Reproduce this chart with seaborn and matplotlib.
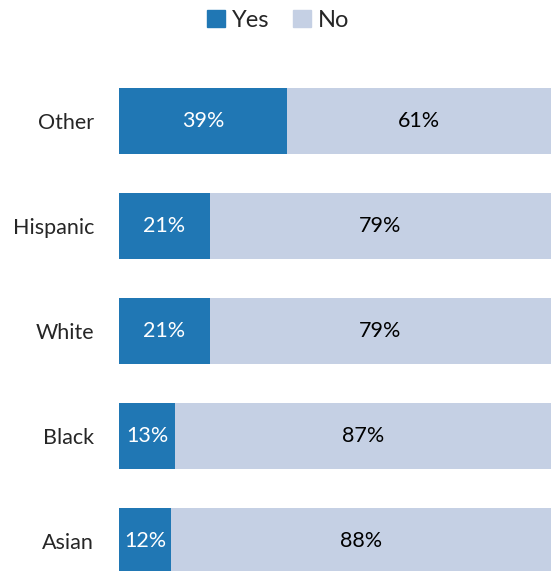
import pandas as pd
import numpy as np
import matplotlib.pyplot as plt
import seaborn as sns
from matplotlib.patches import Patch

groups = ["Other", "Hispanic", "White", "Black", "Asian"]
yes_pct = [39, 21, 21, 13, 12]
no_pct = [61, 79, 79, 87, 88]

YES_COLOR = "#2077B4"
NO_COLOR = "#C5D0E4"

sns.set_style("white")
plt.rcParams['font.family'] = ['Lato', 'DejaVu Sans']

df = pd.DataFrame({"group": groups, "yes": yes_pct, "no": no_pct})
df["total"] = df["yes"] + df["no"]

fig = plt.figure(figsize=(5.56, 5.71), dpi=100)
ax = fig.add_axes([119/556, 0, 432/556, 0.88])

# full bar first (No), then Yes on top of it
sns.barplot(data=df, x="total", y="group", orient="h", color=NO_COLOR,
            width=0.63, saturation=1, linewidth=0, ax=ax)
sns.barplot(data=df, x="yes", y="group", orient="h", color=YES_COLOR,
            width=0.63, saturation=1, linewidth=0, ax=ax)

for i, row in df.iterrows():
    ax.text(row["yes"]/2, i, f"{row['yes']}%", ha="center", va="center",
            color="white", fontsize=15.5)
    ax.text(row["yes"] + row["no"]/2, i, f"{row['no']}%", ha="center", va="center",
            color="black", fontsize=15.5)

ax.set_xlim(0, 100)
ax.set_ylim(4.286, -0.5)
ax.set_xlabel("")
ax.set_ylabel("")
ax.set_xticks([])
ax.tick_params(axis="y", length=0, labelsize=15.5, pad=18)
sns.despine(ax=ax, left=True, bottom=True)

handles = [Patch(color=YES_COLOR, label="Yes"), Patch(color=NO_COLOR, label="No")]
fig.legend(handles=handles, loc="upper center", bbox_to_anchor=(0.5, 1.02), ncol=2,
           frameon=False, fontsize=17, handlelength=0.75, handleheight=0.75,
           handletextpad=0.3, columnspacing=1.0)

fig.savefig("out.png", dpi=100)
